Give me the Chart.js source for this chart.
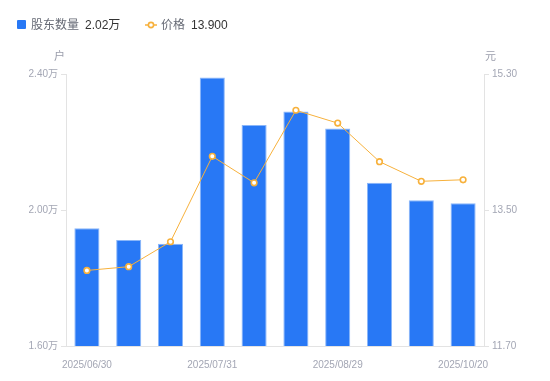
<!DOCTYPE html>
<html>
<head>
<meta charset="utf-8">
<script src="https://cdn.jsdelivr.net/npm/chart.js@4/dist/chart.umd.min.js"></script>
<style>
    body { margin: 0; background: #fff; font-family: "Liberation Sans", "Noto Sans CJK SC", sans-serif; }
    #wrap { position: relative; width: 550px; height: 381px; }
    canvas { position: absolute; left: 0; top: 0; }
    .txt { position: absolute; white-space: nowrap; line-height: 1; }
    .leg { top: 19px; font-size: 12px; color: #666a75; }
    .leg b { font-weight: normal; color: #333; margin-left: 6px; }
    .sq { position: absolute; left: 17px; top: 20px; width: 9px; height: 9px; background: #2878f5; border-radius: 1px; }
    .unit { top: 51px; font-size: 11px; color: #9a9dab; }
</style>
</head>
<body>
<div id="wrap">
    <canvas id="myChart" width="550" height="381"></canvas>
    <div class="sq"></div>
    <div class="txt leg" style="left:31px">股东数量<b>2.02万</b></div>
    <svg class="txt" style="left:145px;top:20px" width="12" height="10">
        <line x1="0" y1="5" x2="12" y2="5" stroke="#f7b13c" stroke-width="1.5"/>
        <circle cx="6" cy="5" r="2.6" fill="#fff" stroke="#f7b13c" stroke-width="1.6"/>
    </svg>
    <div class="txt leg" style="left:161px">价格<b>13.900</b></div>
    <div class="txt unit" style="left:54px">户</div>
    <div class="txt unit" style="left:485px">元</div>
</div>
<script>
const fechas = ['2025/06/30', '2025/07/10', '2025/07/20', '2025/07/31', '2025/08/08', '2025/08/20',
                '2025/08/29', '2025/09/19', '2025/09/30', '2025/10/20'];
const accionistas = [19460, 19120, 19010, 23900, 22500, 22900, 22400, 20800, 20290, 20200]; // 户
const precios = [12.70, 12.75, 13.08, 14.21, 13.86, 14.82, 14.65, 14.14, 13.88, 13.90];      // 元
const ticksIzq = [16000, 20000, 24000];
const ticksDer = [11.70, 13.50, 15.30];

const colorTexto = '#a3a6b4';
const colorEje = '#e3e3e3';
const fuente = { family: '"Liberation Sans", "Noto Sans CJK SC", sans-serif', size: 10 };

const ctx = document.getElementById('myChart').getContext('2d');
new Chart(ctx, {
    data: {
        labels: fechas,
        datasets: [
            {
                type: 'line',
                label: '价格',
                data: precios,
                yAxisID: 'y1',
                borderColor: '#f7b13c',
                borderWidth: 1,
                pointBackgroundColor: '#fff',
                pointBorderColor: '#f7b13c',
                pointBorderWidth: 1.6,
                pointRadius: 2.8,
                tension: 0,
                order: 0
            },
            {
                type: 'bar',
                label: '股东数量',
                data: accionistas,
                yAxisID: 'y',
                backgroundColor: '#2878f5',
                borderColor: '#8ab6f9',
                borderWidth: 1,
                barPercentage: 0.6,
                categoryPercentage: 1,
                order: 1
            }
        ]
    },
    options: {
        responsive: false,
        animation: false,
        layout: { padding: { top: 74, left: 0, right: 0, bottom: 0 } },
        plugins: { legend: { display: false }, tooltip: { enabled: false } },
        scales: {
            x: {
                grid: { display: false },
                border: { display: true, color: colorEje },
                ticks: {
                    autoSkip: false,
                    maxRotation: 0,
                    color: colorTexto,
                    font: fuente,
                    padding: 5,
                    callback: function(v, i) { return i % 3 === 0 ? fechas[i] : ''; }
                },
                afterFit: function(s) { s.height = 35; }
            },
            y: {
                position: 'left',
                min: 16000,
                max: 24000,
                afterBuildTicks: function(s) { s.ticks = ticksIzq.map(v => ({ value: v })); },
                grid: { drawOnChartArea: false, drawTicks: true, tickLength: 5, color: colorEje },
                border: { display: true, color: colorEje },
                ticks: {
                    color: colorTexto,
                    font: fuente,
                    padding: 3,
                    callback: v => (v / 10000).toFixed(2) + '万'
                },
                afterFit: function(s) { s.width = 66; }
            },
            y1: {
                position: 'right',
                min: 11.7,
                max: 15.3,
                afterBuildTicks: function(s) { s.ticks = ticksDer.map(v => ({ value: v })); },
                grid: { drawOnChartArea: false, drawTicks: true, tickLength: 5, color: colorEje },
                border: { display: true, color: colorEje },
                ticks: {
                    color: colorTexto,
                    font: fuente,
                    padding: 3,
                    callback: v => v.toFixed(2)
                },
                afterFit: function(s) { s.width = 66; }
            }
        }
    }
});
</script>
</body>
</html>
